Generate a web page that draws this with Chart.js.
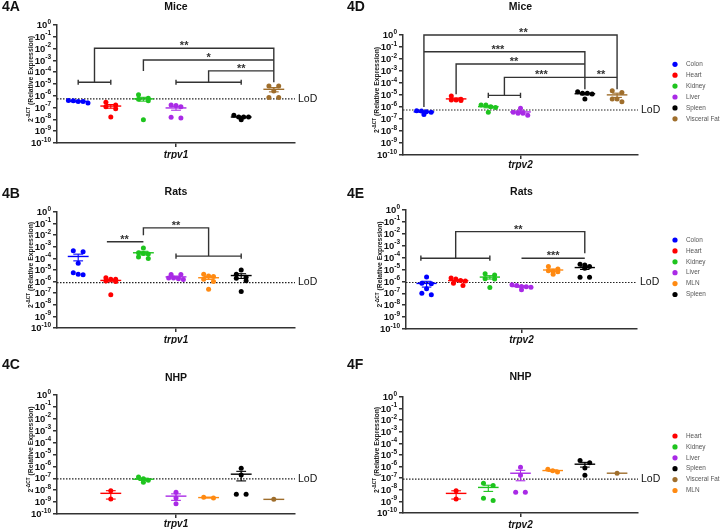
<!DOCTYPE html>
<html>
<head>
<meta charset="utf-8">
<script src="https://cdn.jsdelivr.net/npm/chart.js@4.4.0/dist/chart.umd.min.js"></script>
<style>
  body { margin: 0; background: #fff; }
  #fig { position: relative; width: 720px; height: 530px; overflow: hidden; }
  #fig canvas { position: absolute; }
</style>
</head>
<body>
<div id="fig">
  <canvas id="c4A"></canvas>
  <canvas id="c4D"></canvas>
  <canvas id="c4B"></canvas>
  <canvas id="c4E"></canvas>
  <canvas id="c4C"></canvas>
  <canvas id="c4F"></canvas>
</div>
<script>
const FONT = '"Liberation Sans", Arial, Helvetica, sans-serif';
const INK = '#333';

const tissues = ['Colon', 'Heart', 'Kidney', 'Liver', 'MLN', 'Spleen', 'Visceral Fat'];
const tissueColors = ['#0000ff', '#ff0000', '#1ec41e', '#a92ae6', '#ff8a12', '#000000', '#9f6e2c'];
const yTickExponents = [0, -1, -2, -3, -4, -5, -6, -7, -8, -9, -10];

// 4A  mice, trpv1
const miceTrpv1Colon = [3.3e-7, 3.8e-7, 4.0e-7, 3.3e-7, 2.4e-7];
const miceTrpv1Heart = [1.7e-7, 2.9e-7, 1.2e-7, 8e-8, 1.6e-8];
const miceTrpv1Kidney = [1.2e-6, 6.3e-7, 5.2e-7, 3.8e-7, 9.3e-9];
const miceTrpv1Liver = [1.5e-7, 1.7e-7, 1.2e-7, 1.3e-8, 1.5e-8];
const miceTrpv1Spleen = [2.2e-8, 9.3e-9, 1.6e-8, 1.6e-8, 1.6e-8];
const miceTrpv1Fat = [6.9e-6, 2.6e-6, 7.2e-7, 7.2e-7, 6.9e-6];
const miceTrpv1LoD = 5.5e-7;
// brackets: [from slot, to slot, log10 level] and link paths [slot, log10]
const miceTrpv1Bars = [[0, 1, -4.85], [3, 5, -4.85]];
const miceTrpv1Links = [
  [[0.5, -4.85], [0.5, -1.97], [6, -1.97], [6, -4.85]],
  [[2, -3.89], [2, -2.96], [6, -2.96]],
  [[4, -4.85], [4, -3.89], [6, -3.89]]
];
const miceTrpv1Stars = [['**', 3.25, -1.97], ['*', 4, -2.96], ['**', 5, -3.89]];

// 4D  mice, trpv2
const miceTrpv2Colon = [3.6e-7, 4.7e-7, 4.1e-7, 4.9e-7, 2.4e-7];
const miceTrpv2Heart = [3.8e-6, 8.3e-6, 4.4e-6, 3.8e-6, 3.4e-6];
const miceTrpv2Kidney = [9.3e-7, 1.5e-6, 3.6e-7, 1.07e-6, 1.5e-6];
const miceTrpv2Liver = [7.7e-7, 2.1e-7, 3.6e-7, 3e-7, 3e-7];
const miceTrpv2Spleen = [1.4e-5, 1.9e-5, 4.7e-6, 1.2e-5, 1.4e-5];
const miceTrpv2Fat = [2.3e-5, 1.6e-5, 2.8e-6, 4.7e-6, 4.7e-6];
const miceTrpv2LoD = 5.6e-7;
const miceTrpv2Bars = [[2, 3, -5.03]];
const miceTrpv2Links = [
  [[0, -6.0], [0, 0], [6, 0], [6, -4.53]],
  [[0, -1.39], [5, -1.39], [5, -4.53]],
  [[1, -4.94], [1, -2.42], [5, -2.42]],
  [[2.5, -5.03], [2.5, -3.53], [6, -3.53]]
];
const miceTrpv2Stars = [['**', 3.09, 0], ['***', 2.3, -1.39], ['**', 2.8, -2.42], ['***', 3.65, -3.53], ['**', 5.5, -3.53]];

// 4B  rats, trpv1
const ratsTrpv1Colon = [3.7e-4, 4.6e-4, 3.8e-5, 3.8e-6, 5.9e-6, 4.3e-6];
const ratsTrpv1Heart = [1.6e-6, 1.0e-6, 2.2e-6, 1.1e-6, 1.6e-6, 7.2e-8];
const ratsTrpv1Kidney = [8e-4, 3e-4, 2.6e-4, 2.4e-4, 1e-4, 1.3e-4];
const ratsTrpv1Liver = [4e-6, 2e-6, 4e-6, 2e-6, 1.5e-6, 1.8e-6];
const ratsTrpv1MLN = [4.3e-6, 2.7e-6, 3.1e-6, 1.6e-6, 1.0e-6, 2.2e-7];
const ratsTrpv1Spleen = [1e-5, 4.3e-6, 2.4e-6, 1.9e-6, 1.2e-6, 1.4e-7];
const ratsTrpv1LoD = 8.3e-7;
const ratsTrpv1Bars = [[3, 5, -3.8]];
const ratsTrpv1Links = [
  [[0.88, -2.57], [2, -2.57]],
  [[2, -2.0], [2, -1.37], [4, -1.37], [4, -3.8]]
];
const ratsTrpv1Stars = [['**', 1.42, -2.57], ['**', 3.0, -1.37]];

// 4E  rats, trpv2
const ratsTrpv2Colon = [2.3e-6, 7.1e-7, 6.3e-7, 2.4e-7, 1e-7, 7.6e-8];
const ratsTrpv2Heart = [1.2e-6, 1.6e-6, 1.9e-6, 1.1e-6, 4.5e-7, 7.1e-7];
const ratsTrpv2Kidney = [3.5e-6, 4.4e-6, 1.6e-6, 1.7e-6, 3.1e-7];
const ratsTrpv2Liver = [3.3e-7, 4.6e-7, 3.8e-7, 5.2e-7, 2e-7, 3.5e-7];
const ratsTrpv2MLN = [4e-6, 1.1e-5, 1.8e-5, 8e-6, 7e-6, 6.5e-6];
const ratsTrpv2Spleen = [1.8e-5, 2.8e-5, 1.3e-5, 2.4e-5, 2.2e-6, 2.2e-6];
const ratsTrpv2LoD = 8.1e-7;
const ratsTrpv2Bars = [[-0.18, 2, -4.05]];
const ratsTrpv2Links = [
  [[0.92, -4.05], [0.92, -1.82], [5, -1.82], [5, -3.63]],
  [[3, -4.05], [5, -4.05]]
];
const ratsTrpv2Stars = [['**', 2.9, -1.82], ['***', 4.0, -4.05]];

// 4C  NHP, trpv1
const nhpTrpv1Heart = [9.1e-9, 1.8e-9];
const nhpTrpv1Kidney = [1.3e-7, 9e-8, 6.9e-8, 4.7e-8];
const nhpTrpv1Liver = [6.6e-9, 2.2e-9, 7.1e-10];
const nhpTrpv1MLN = [2.2e-9, 2.6e-9];
const nhpTrpv1Spleen = [6.9e-7, 1.9e-7, 4.5e-9, 4.5e-9];
const nhpTrpv1Fat = [1.7e-9];
const nhpTrpv1LoD = 9e-8;

// 4F  NHP, trpv2
const nhpTrpv2Heart = [8.2e-9, 1.6e-9];
const nhpTrpv2Kidney = [2.4e-8, 3.7e-8, 1.9e-9, 1.2e-9];
const nhpTrpv2Liver = [8.8e-7, 1.8e-7, 6.3e-9, 6.3e-9];
const nhpTrpv2MLN = [3.5e-7, 4.3e-7, 5.9e-7];
const nhpTrpv2Spleen = [2.2e-6, 3.3e-6, 7.7e-7, 1.8e-7];
const nhpTrpv2Fat = [2.7e-7];
const nhpTrpv2LoD = 8.2e-8;

const X_MIN = -0.65, X_MAX = 6.65;
const DOT_STEP = 0.15, MEAN_W = 0.32, CAP_W = 0.15, CAP = 0.22;

const panels = [
  { id: 'c4A', letter: '4A', title: 'Mice', gene: 'trpv1', box: [0, 0, 345, 175], plot: [57, 25, 295, 143],
    titleY: 7, letterY: 7, genePad: 2.5, lod: miceTrpv1LoD,
    groups: [['Colon', miceTrpv1Colon], ['Heart', miceTrpv1Heart], ['Kidney', miceTrpv1Kidney],
             ['Liver', miceTrpv1Liver], ['Spleen', miceTrpv1Spleen], ['Visceral Fat', miceTrpv1Fat]],
    bars: miceTrpv1Bars, links: miceTrpv1Links, stars: miceTrpv1Stars, legend: null },
  { id: 'c4D', letter: '4D', title: 'Mice', gene: 'trpv2', box: [345, 0, 375, 175], plot: [403, 35, 638, 155],
    titleY: 7, letterY: 7, genePad: 0, lod: miceTrpv2LoD,
    groups: [['Colon', miceTrpv2Colon], ['Heart', miceTrpv2Heart], ['Kidney', miceTrpv2Kidney],
             ['Liver', miceTrpv2Liver], ['Spleen', miceTrpv2Spleen], ['Visceral Fat', miceTrpv2Fat]],
    bars: miceTrpv2Bars, links: miceTrpv2Links, stars: miceTrpv2Stars,
    legend: ['Colon', 'Heart', 'Kidney', 'Liver', 'Spleen', 'Visceral Fat'], legendY: 64.3 },
  { id: 'c4B', letter: '4B', title: 'Rats', gene: 'trpv1', box: [0, 175, 345, 175], plot: [57, 212, 295, 328],
    titleY: 17, letterY: 19, genePad: 2.5, lod: ratsTrpv1LoD,
    groups: [['Colon', ratsTrpv1Colon], ['Heart', ratsTrpv1Heart], ['Kidney', ratsTrpv1Kidney],
             ['Liver', ratsTrpv1Liver], ['MLN', ratsTrpv1MLN], ['Spleen', ratsTrpv1Spleen]],
    bars: ratsTrpv1Bars, links: ratsTrpv1Links, stars: ratsTrpv1Stars, legend: null },
  { id: 'c4E', letter: '4E', title: 'Rats', gene: 'trpv2', box: [345, 175, 375, 175], plot: [406, 210, 637, 329],
    titleY: 17, letterY: 19, genePad: 1.5, lod: ratsTrpv2LoD,
    groups: [['Colon', ratsTrpv2Colon], ['Heart', ratsTrpv2Heart], ['Kidney', ratsTrpv2Kidney],
             ['Liver', ratsTrpv2Liver], ['MLN', ratsTrpv2MLN], ['Spleen', ratsTrpv2Spleen]],
    bars: ratsTrpv2Bars, links: ratsTrpv2Links, stars: ratsTrpv2Stars,
    legend: ['Colon', 'Heart', 'Kidney', 'Liver', 'MLN', 'Spleen'], legendY: 65 },
  { id: 'c4C', letter: '4C', title: 'NHP', gene: 'trpv1', box: [0, 350, 345, 180], plot: [57, 395, 295, 514],
    titleY: 28, letterY: 15, genePad: 0.5, lod: nhpTrpv1LoD,
    groups: [['Heart', nhpTrpv1Heart], ['Kidney', nhpTrpv1Kidney], ['Liver', nhpTrpv1Liver],
             ['MLN', nhpTrpv1MLN], ['Spleen', nhpTrpv1Spleen], ['Visceral Fat', nhpTrpv1Fat]],
    bars: [], links: [], stars: [], legend: null },
  { id: 'c4F', letter: '4F', title: 'NHP', gene: 'trpv2', box: [345, 350, 375, 180], plot: [403, 397, 638, 513],
    titleY: 27, letterY: 15, genePad: 2.5, lod: nhpTrpv2LoD,
    groups: [['Heart', nhpTrpv2Heart], ['Kidney', nhpTrpv2Kidney], ['Liver', nhpTrpv2Liver],
             ['MLN', nhpTrpv2MLN], ['Spleen', nhpTrpv2Spleen], ['Visceral Fat', nhpTrpv2Fat]],
    bars: [], links: [], stars: [],
    legend: ['Heart', 'Kidney', 'Liver', 'Spleen', 'Visceral Fat', 'MLN'], legendY: 86 }
];

// mean and SEM of a group, like the scatter-dot plot
function stats(vals) {
  const n = vals.length;
  const mean = vals.reduce((a, b) => a + b, 0) / n;
  if (n < 2) return { mean, sem: 0 };
  const sd = Math.sqrt(vals.reduce((a, v) => a + (v - mean) ** 2, 0) / (n - 1));
  return { mean, sem: sd / Math.sqrt(n) };
}

// spread dots that sit at about the same level side by side
function spread(vals) {
  const order = vals.map((v, i) => i).sort((a, b) => vals[b] - vals[a]);
  const offs = new Array(vals.length).fill(0);
  let row = [];
  const flush = () => {
    const n = row.length;
    const step = n % 2 ? DOT_STEP : Math.max(DOT_STEP, 2 * DOT_STEP / (n - 1));
    row.forEach((idx, k) => { offs[idx] = (k - (n - 1) / 2) * step; });
    row = [];
  };
  order.forEach(i => {
    if (row.length && Math.log10(vals[row[0]]) - Math.log10(vals[i]) >= 0.3) flush();
    row.push(i);
  });
  flush();
  return offs;
}

function buildDatasets(p) {
  const ds = [];
  const line = (pts, color, width, order, dash) => ds.push({
    type: 'scatter', showLine: true, order, clip: false,
    data: pts.map(([x, y]) => ({ x, y })),
    borderColor: color, borderWidth: width, borderDash: dash || [],
    pointRadius: 0, pointHoverRadius: 0, tension: 0
  });
  line([[X_MIN, p.lod], [X_MAX, p.lod]], '#222', 1.2, 3, [1.5, 1.5]);
  p.bars.forEach(([a, b, e]) => {
    line([[a, 10 ** e], [b, 10 ** e]], INK, 1.4, 3);
    [a, b].forEach(x => line([[x, 10 ** (e + CAP)], [x, 10 ** (e - CAP)]], INK, 1.4, 3));
  });
  p.links.forEach(path => line(path.map(([x, e]) => [x, 10 ** e]), INK, 1.4, 3));
  p.groups.forEach(([name, vals]) => {
    const slot = tissues.indexOf(name);
    const color = tissueColors[slot];
    const offs = spread(vals);
    ds.push({
      type: 'scatter', order: 1,
      data: vals.map((v, i) => ({ x: slot + offs[i], y: v })),
      pointRadius: 2.5, pointHoverRadius: 2.5,
      pointBackgroundColor: color, pointBorderWidth: 0
    });
    const { mean, sem } = stats(vals);
    line([[slot - MEAN_W, mean], [slot + MEAN_W, mean]], color, 1.4, 0);
    if (sem > 0) {
      const hi = mean + sem, lo = Math.max(mean - sem, 1.1e-10);
      line([[slot, lo], [slot, hi]], color, 1.1, 0);
      line([[slot - CAP_W, hi], [slot + CAP_W, hi]], color, 1.1, 0);
      line([[slot - CAP_W, lo], [slot + CAP_W, lo]], color, 1.1, 0);
    }
  });
  return ds;
}

function drawYTitle(ctx, x, y) {
  const big = `bold 6.8px ${FONT}`, small = `bold 4.8px ${FONT}`;
  const parts = [['2', big, 0], ['-ΔCT', small, -2.6], [' (Relative Expression)', big, 0]];
  ctx.save();
  ctx.translate(x, y);
  ctx.rotate(-Math.PI / 2);
  ctx.textAlign = 'left';
  ctx.textBaseline = 'middle';
  let total = 0;
  parts.forEach(([t, f]) => { ctx.font = f; total += ctx.measureText(t).width; });
  let cx = -total / 2;
  parts.forEach(([t, f, dy]) => {
    ctx.font = f;
    ctx.fillText(t, cx, dy);
    cx += ctx.measureText(t).width;
  });
  ctx.restore();
}

// "10" with a raised exponent, right aligned next to the tick
function drawYTicks(ctx, ca, ys) {
  const big = `bold 9.5px ${FONT}`, small = `bold 6.5px ${FONT}`;
  ctx.save();
  ctx.fillStyle = '#111';
  ctx.textBaseline = 'middle';
  ctx.textAlign = 'left';
  yTickExponents.forEach(e => {
    const py = ys.getPixelForValue(10 ** e);
    const exp = String(e);
    ctx.font = small;
    const ew = ctx.measureText(exp).width;
    ctx.font = big;
    const bw = ctx.measureText('10').width;
    const right = ca.left - 6;
    ctx.fillText('10', right - ew - bw, py + 0.5);
    ctx.font = small;
    ctx.fillText(exp, right - ew, py - 3.2);
  });
  ctx.restore();
}

function decor(p) {
  return {
    id: 'decor',
    afterDraw(chart) {
      const { ctx, chartArea: ca } = chart;
      const xs = chart.scales.x, ys = chart.scales.y;
      drawYTicks(ctx, ca, ys);
      ctx.save();
      ctx.fillStyle = '#111';
      ctx.textBaseline = 'middle';
      ctx.textAlign = 'left';
      ctx.font = `bold 14px ${FONT}`;
      ctx.fillText(p.letter, 2, p.letterY);
      ctx.textAlign = 'center';
      ctx.font = `bold 10.5px ${FONT}`;
      ctx.fillText(p.title, (ca.left + ca.right) / 2, p.titleY);
      ctx.textAlign = 'left';
      ctx.font = `10.5px ${FONT}`;
      ctx.fillText('LoD', ca.right + 3, ys.getPixelForValue(p.lod));
      ctx.fillStyle = INK;
      ctx.textAlign = 'center';
      ctx.textBaseline = 'alphabetic';
      ctx.font = `bold 11px ${FONT}`;
      p.stars.forEach(([t, sx, e]) => ctx.fillText(t, xs.getPixelForValue(sx), ys.getPixelForValue(10 ** e) + 1));
      ctx.fillStyle = '#222';
      drawYTitle(ctx, ca.left - 26, (ca.top + ca.bottom) / 2 - 5);
      if (p.legend) {
        const lx = 330;
        ctx.textBaseline = 'middle';
        ctx.textAlign = 'left';
        ctx.font = `6.4px ${FONT}`;
        p.legend.forEach((name, i) => {
          const ly = p.legendY + i * 10.9;
          ctx.fillStyle = tissueColors[tissues.indexOf(name)];
          ctx.beginPath();
          ctx.arc(lx, ly, 2.6, 0, Math.PI * 2);
          ctx.fill();
          ctx.fillStyle = '#555';
          ctx.fillText(name, lx + 11, ly);
        });
      }
      ctx.restore();
    }
  };
}

Chart.defaults.font.family = FONT;

panels.forEach(p => {
  const canvas = document.getElementById(p.id);
  const [bx, by, bw, bh] = p.box;
  const [L, T, R, B] = p.plot;
  canvas.width = bw;
  canvas.height = bh;
  canvas.style.left = bx + 'px';
  canvas.style.top = by + 'px';
  const xH = 16;
  const axisLine = { display: true, color: INK, width: 1.5 };
  const tickGrid = { display: true, drawOnChartArea: false, drawTicks: true, tickLength: 4, color: INK, lineWidth: 1.5 };
  new Chart(canvas, {
    type: 'scatter',
    data: { datasets: buildDatasets(p) },
    options: {
      responsive: false,
      animation: false,
      events: [],
      layout: { padding: { top: T - by, right: bx + bw - R, bottom: by + bh - B - xH, left: 0 } },
      plugins: { legend: { display: false }, tooltip: { enabled: false } },
      scales: {
        x: {
          type: 'linear', min: X_MIN, max: X_MAX,
          afterBuildTicks: s => { s.ticks = [{ value: 3 }]; },
          afterFit: s => { s.height = xH; },
          grid: tickGrid, border: axisLine,
          ticks: { callback: () => p.gene, autoSkip: false, maxRotation: 0, padding: p.genePad,
                   color: '#111', font: { size: 10, weight: 'bold', style: 'italic' } }
        },
        y: {
          type: 'logarithmic', min: 1e-10, max: 1,
          afterBuildTicks: s => { s.ticks = yTickExponents.map(e => ({ value: 10 ** e })); },
          afterFit: s => { s.width = L - bx; },
          grid: tickGrid, border: axisLine,
          ticks: { display: false, autoSkip: false }
        }
      }
    },
    plugins: [decor(p)]
  });
});
</script>
</body>
</html>
